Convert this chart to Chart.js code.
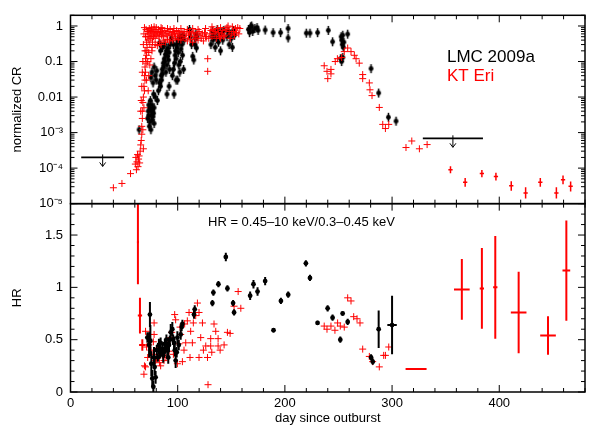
<!DOCTYPE html>
<html><head><meta charset="utf-8">
<script src="https://cdn.jsdelivr.net/npm/chart.js@4"></script>
<style>html,body{margin:0;padding:0;background:#fff}canvas{display:block}</style>
</head><body>
<canvas id="c" width="598" height="428"></canvas>
<script>
// ---------- DATA ----------
const xTicks = [0, 100, 200, 300, 400];
const crTicks = [1e-5, 1e-4, 1e-3, 0.01, 0.1, 1];
const crTickLabels = ['10\u207B\u2075', '10\u207B\u2074', '10\u207B\u00B3', '0.01', '0.1', '1'];
const hrTicks = [0, 0.5, 1, 1.5];
const hrTickLabels = ['0', '0.5', '1', '1.5'];

// KT Eri normalized count rate [day, CR]
const ktCr = [
 [40,2.8e-5],[48,3.7e-5],[56,7e-5],[60.5,1.3e-4],[61,2e-4],[61.5,9e-5],[62,1.5e-4],[62.5,2.4e-4],[63,1.1e-4],[63.5,1.8e-4],
 [64,2.2e-4],[64.5,1.4e-4],[65,3e-4],[65.5,4.5e-4],[66,6e-4],[66.5,9e-4],[66.5,1.5e-3],[67,2.5e-3],[67,4e-3],[67.5,7e-3],
 [67.5,1.2e-3],[68,0.01],[68,3.5e-4],[68.5,0.02],[68.5,5e-3],[69,0.04],[69,0.015],[69.5,0.07],[69.5,0.03],[70,0.12],
 [70,0.05],[70.5,0.2],[70.5,0.09],[71,0.35],[71,0.15],[71.5,0.5],[71.5,0.25],[72,0.7],[72,0.1],[72.5,0.4],
 [73,0.6],[73,0.18],[73.5,0.85],[74,0.3],[74,0.5],[74.5,0.75],[75,0.45],[75,0.65],[75.5,0.9],[76,0.55],
 [76.5,0.35],[77,0.7],[77.5,0.5],[78,0.8],[78.5,0.6],[79,0.45],[79.5,0.7],[80,0.9],[80.5,0.55],[81,0.65],
 [82,0.8],[82.5,0.5],[83,0.6],[84,0.7],[85,0.55],[85.5,0.85],[86,0.65],[87,0.5],[88,0.75],[89,0.6],
 [90,0.55],[91,0.7],[92,0.6],[93,0.8],[94,0.55],[95,0.65],[96,0.7],[97,0.6],[98,0.5],[99,0.75],
 [100,0.6],[101,0.7],[102,0.55],[104,0.65],[105,0.5],[106,0.7],[108,0.6],[110,0.55],[111,0.7],[113,0.6],
 [115,0.65],[116,0.5],[118,0.6],[120,0.7],[121,0.55],[123,0.6],[125,0.65],[127,0.5],[128,0.12],[128,0.053],
 [130,0.6],[131,0.75],[133,0.8],[134,0.6],[135,0.7],[137,0.85],[138,0.65],[139,0.5],[141,0.6],[142,0.75],
 [144,0.55],[145,0.8],[146,0.9],[147,1.0],[148,0.7],[150,0.6],[152,0.7],[154,0.85],[155,0.65],[156,0.9],[158,0.85],
 [76,0.25],[79,0.3],[81,0.28],[83,0.35],[84.5,0.3],[86.5,0.4],[88.5,0.35],[90.5,0.42],[92.5,0.38],[95.5,0.4],
 [97.5,0.45],[100.5,0.42],[103,0.4],[107,0.45],[109,0.38],[112,0.42],[114,0.35],[117,0.45],[119,0.4],[122,0.45],
 [124,0.38],[126,0.5],[129,0.45],[132,0.5],[136,0.45],[140,0.45],[143,0.5],[149,0.45],[153,0.55],[157,0.6],
 [78,0.95],[84.5,0.9],[90.5,0.85],[96.5,0.85],[103,0.85],[109,0.8],[114,0.85],[119,0.8],[126,0.85],[132,0.95],[140,0.9],[151,0.95],
 [65.5,0.004],[66,0.008],[66.5,0.02],[67,0.05],[67.5,0.1],[68,0.3],[68.5,0.6],[69,0.9],[69.5,0.2],[70,0.5],
 [70.5,0.8],[71,0.03],[72.5,0.015],[73,0.04],[74,0.08],[75,0.12],[76,0.2],
 [236.7,0.076],[239.3,0.053],[240,0.033],[243,0.06],[243,0.045],[247,0.1],[249,0.12],[253,0.13],[255.4,0.19],[258.6,0.24],
 [261.7,0.19],[264.8,0.15],[266.4,0.12],[269.4,0.09],[272.6,0.043],[272.6,0.033],[278.8,0.025],[279.4,0.016],[281.3,0.011],[288.1,0.0051],
 [291.3,0.0017],[293.8,0.0013],[296.9,0.0017],[313,3.8e-4],[318.4,5.8e-4],[325.5,3.5e-4],[332.7,4.6e-4]
];
// KT Eri late faint detections [day, CR, low, high, day error]
const ktLate = [
 [354.5,9e-5,7.2e-5,1.12e-4,2],[368.2,4e-5,3e-5,5.3e-5,2],[383.8,7e-5,5.5e-5,8.9e-5,2],[396.9,5.8e-5,4.5e-5,7.4e-5,2],
 [411.2,3.2e-5,2.3e-5,4.3e-5,2],[424.6,2e-5,1.4e-5,2.9e-5,2],[438.3,4e-5,3e-5,5.3e-5,2],[453.3,2e-5,1.4e-5,2.9e-5,2],
 [459.5,4.7e-5,3.5e-5,6.2e-5,2],[466.6,3.1e-5,2.2e-5,4.2e-5,2]
];
// LMC 2009a normalized count rate [day, CR]
const lmcCr = [
 [64,1.2e-3],[72,2.5e-3],[72.5,4e-3],[73,6e-3],[73,3e-3],[73.5,1.5e-3],[74,5e-3],[74,2e-3],[74.5,8e-3],[75,4e-3],
 [75,1.2e-3],[75.5,3e-3],[76,6e-3],[76,2.2e-3],[76.5,4.5e-3],[77,2.8e-3],[77.5,3.5e-3],[78,5e-3],[78,1.8e-3],
 [75,0.035],[76,0.05],[77,0.025],[78,0.07],[79,0.04],[80,0.03],[80.5,0.055],[77.5,0.012],[79,0.01],[81,0.008],
 [82,0.015],[83,0.025],[84,0.02],[84.5,0.04],[85,0.03],[85.5,0.06],[86,0.045],[86.5,0.09],[87,0.07],[87.5,0.12],
 [88,0.1],[88.5,0.16],[89,0.05],[89.5,0.2],[90,0.08],[90.5,0.14],[91,0.24],[91.5,0.11],[92,0.18],[92.5,0.06],[93,0.3],
 [83,0.33],[84,0.2],[86,0.25],[88,0.3],[90,0.012],[92,0.02],[94,0.45],[96,0.3],
 [96.6,0.012],
 [95,0.04],[96,0.06],[97,0.09],[97.5,0.15],[98,0.2],[98.5,0.12],[99,0.3],[99.5,0.25],[100,0.4],[100.5,0.18],
 [101,0.08],[101.5,0.35],[102,0.5],[102.5,0.1],[103,0.22],[103.5,0.45],[104,0.3],[104.5,0.15],[105,0.55],[105.5,0.06],[106,0.4],
 [98.5,0.03],[100,0.03],[102,0.05],
 [111,0.8],[112,0.5],[113,0.3],[114,0.14],
 [115,0.11],[116,0.3],[116.5,0.45],[117,0.6],[117.5,0.24],[118,0.5],
 [131,0.3],[132,0.5],[132.5,0.7],[133,0.4],[134,0.6],[135,0.25],[136,0.45],[137,0.8],[138,0.35],[139,0.55],
 [140,0.2],[141,0.65],[142,0.4],[143,0.75],
 [146,0.5],[147,0.7],[148,0.3],[149,0.6],[150,0.45],[151,0.25],[152,0.75],[153,0.55],
 [166,0.8],[167,0.65],[168,0.95],[169,1.0],[170,0.7],[172,0.85],[174,0.9],[175,0.75],[181.6,0.77],[189,0.65],
 [196,0.65],[203,0.85],[203,0.46],[220,0.63],[223.4,0.63],[230.5,0.65],[240.5,0.75],[244.5,0.36],
 [252.5,0.5],[253,0.4],[253.5,0.3],[254,0.55],[254.5,0.25],[255,0.35],[258.6,0.59],[252,0.12],[253,0.1],[254,0.13],
 [280.4,0.063],[287.5,0.013],[296.6,0.0027],[303.7,0.0021]
];
// LMC 2009a upper limits [day from, day to, CR limit]
const lmcUpper = [[10, 50, 2e-4], [328.7, 384.8, 6.9e-4]];

// KT Eri hardness ratio [day, HR]
const ktHr = [
 [68.5,0.17],[69,0.25],[70,0.24],[70,0.58],[71,0.43],[72,0.33],[73,0.45],[74,0.55],[75,0.4],[76,0.36],
 [77.3,0.48],[78,0.55],[78,0.66],[79.4,0.30],[80.4,0.32],[81,0.42],[82,0.36],[83,0.28],[84.1,0.25],[85.7,0.35],
 [87.2,0.30],[88,0.42],[89,0.33],[90.3,0.47],[91.9,0.39],[93.5,0.52],[94.4,0.57],[96,0.36],[97.2,0.74],[98.1,0.69],
 [99.7,0.27],[101.2,0.46],[102.2,0.62],[102.8,0.55],[104.4,0.29],[105.9,0.40],[106.5,0.65],[107.5,0.47],[109,0.68],[110.6,0.76],
 [111.5,0.33],[112.1,0.58],[113.7,0.47],[114.6,0.66],[116.8,0.73],[118.4,0.85],[119.9,0.76],[119.9,0.33],[121.5,0.52],[123.1,0.66],
 [124,0.40],[126.2,0.44],[127.8,0.33],[128.3,0.07],[130.8,0.51],[130.8,0.44],[131.8,0.38],[133.9,0.65],[135.5,0.58],[137.7,0.51],
 [137.7,0.44],[139.6,0.40],[143.3,0.45],[146.4,0.57],[148.9,0.56],[152.6,0.82],[156.4,0.96],[158.9,0.80],
 [236.7,0.63],[239.3,0.60],[243,0.63],[246.7,0.59],[249.2,0.66],[251.7,0.63],[255.4,0.62],[258.6,0.90],[261.7,0.87],[264.2,0.72],
 [267.3,0.70],[270.1,0.66],[272.6,0.41],[278.8,0.34],[281.9,0.29],[288.1,0.24],[292.2,0.35],[293.8,0.35],[296.9,0.43]
];
// KT Eri hardness ratio with large errors [day, HR, day error, HR error]
const ktHrErr = [
 [62.9,1.43,1,0.4],[64.8,0.73,2,0.17],[67,0.45,3,0.055],[322.4,0.22,9.8,0.01],[365.1,0.98,7.3,0.29],
 [383.8,0.99,2,0.385],[396.3,1.0,2,0.49],[418.1,0.76,7.3,0.39],[445.5,0.54,7.3,0.185],[462.6,1.16,3.6,0.48]
];
// LMC 2009a hardness ratio [day, HR, HR error, day error]
const lmcHr = [
 [71.7,0.52,0.05],[73.3,0.45,0.12],[74.1,0.74,0.12],[74.5,0.49,0.15],[75.4,0.27,0.12],[76.3,0.13,0.08],[77.3,0.05,0.06],
 [77.9,0.33,0.1],[78.5,0.24,0.08],[79.4,0.14,0.06],[80.5,0.4,0.05],[81.5,0.33,0.04],[82.5,0.45,0.06],[83.5,0.38,0.06],
 [84.1,0.47,0.05],[85.7,0.41,0.06],[86.5,0.35,0.07],[87.2,0.38,0.05],[88,0.46,0.05],[88.8,0.44,0.06],[89.5,0.50,0.05],
 [90.3,0.40,0.08],[91.2,0.33,0.06],[91.9,0.45,0.07],[92.6,0.5,0.04],[93.5,0.57,0.08],[95,0.60,0.07],[95.8,0.5,0.05],
 [96.6,0.47,0.06],[97.3,0.40,0.06],[98.1,0.30,0.07],[99.1,0.38,0.05],[99.7,0.52,0.06],[101,0.45,0.05],[102.8,0.55,0.05],
 [103.7,0.62,0.04],[104.4,0.65,0.04],[115.2,0.74,0.04],[115.9,0.79,0.04],[132.4,0.85,0.03],[133.3,0.95,0.03],[138,1.03,0.03],
 [144.9,1.29,0.04],[146.4,0.99,0.03],[151.7,0.85,0.03],[152.6,0.76,0.03],[167.6,0.92,0.04],[170.7,1.03,0.04],[174.5,0.96,0.04],
 [181.6,1.06,0.04],[189.4,0.59,0.02],[196.3,0.87,0.03],[203.1,0.93,0.03],[219.6,1.23,0.03],[223.4,1.09,0.03],[230.5,0.66,0.02],
 [239.9,0.80,0.03],[244.5,0.71,0.03],[251.7,0.50,0.03],[253.9,0.75,0.02],[258.6,0.67,0.03],[280.4,0.33,0.03],[282,0.29,0.03],
 [287.5,0.60,0.18],[300,0.64,0.28,4.4]
];

// ---------- STYLE ----------
const FONT = "'Liberation Sans', Arial, Helvetica, sans-serif";
const RED = 'rgb(255,0,0)';

// black dot with short vertical bar (marker style for count-rate panel)
const dotBar = document.createElement('canvas');
dotBar.width = 7; dotBar.height = 13;
(function(){ const c = dotBar.getContext('2d'); c.fillStyle = '#000';
  c.beginPath(); c.arc(3.5, 6.5, 2.4, 0, Math.PI*2); c.fill(); c.fillRect(2.75, 2, 1.5, 9); })();

const errorBars = {
  id: 'errorBars',
  afterDatasetDraw(chart, args) {
    const ds = chart.data.datasets[args.index];
    if (!ds.bars) return;
    const xs = chart.scales.x, ys = chart.scales[ds.yAxisID], ctx = chart.ctx;
    ctx.save();
    ctx.beginPath(); ctx.rect(xs.left, ys.top, xs.right - xs.left, ys.bottom - ys.top); ctx.clip();
    ctx.strokeStyle = ds.barColor; ctx.lineWidth = ds.barWidth;
    for (const d of ds.data) {
      const px = xs.getPixelForValue(d.x), py = ys.getPixelForValue(d.y);
      ctx.beginPath();
      if (d.ylo !== undefined) { ctx.moveTo(px, ys.getPixelForValue(d.ylo)); ctx.lineTo(px, ys.getPixelForValue(d.yhi)); }
      if (d.xerr) { ctx.moveTo(xs.getPixelForValue(d.x - d.xerr), py); ctx.lineTo(xs.getPixelForValue(d.x + d.xerr), py); }
      ctx.stroke();
    }
    ctx.restore();
  }
};

const frame = {
  id: 'frame',
  afterDraw(chart) {
    const ctx = chart.ctx, xs = chart.scales.x, yt = chart.scales.yTop, yb = chart.scales.yBot;
    const L = xs.left, R = xs.right;
    const line = (a,b,c,d) => { ctx.beginPath(); ctx.moveTo(a,b); ctx.lineTo(c,d); ctx.stroke(); };
    ctx.save();
    ctx.strokeStyle = '#000';
    // upper limits
    ctx.lineWidth = 1.8;
    for (const [d0, d1, v] of lmcUpper) {
      const py = yt.getPixelForValue(v);
      line(xs.getPixelForValue(d0), py, xs.getPixelForValue(d1), py);
    }
    ctx.lineWidth = 1;
    for (const [d0, d1, v] of lmcUpper) {
      const py = yt.getPixelForValue(v), px = xs.getPixelForValue((d0 + d1) / 2);
      line(px, py - 3, px, py + 9);
      ctx.beginPath(); ctx.moveTo(px - 3, py + 5); ctx.lineTo(px, py + 9); ctx.lineTo(px + 3, py + 5); ctx.stroke();
    }
    // frames
    ctx.lineWidth = 1.5;
    for (const s of [yt, yb]) ctx.strokeRect(L, s.top, R - L, s.bottom - s.top);
    ctx.lineWidth = 1;
    for (let v = 0; v <= xs.max; v += 20) {
      const px = xs.getPixelForValue(v), len = v % 100 === 0 ? 7 : 4;
      for (const s of [yt, yb]) { line(px, s.top, px, s.top + len); line(px, s.bottom, px, s.bottom - len); }
    }
    for (let e = -5; e <= 0; e++) for (let k = 1; k <= 9; k++) {
      const v = k * Math.pow(10, e); if (v > yt.max) break;
      const py = yt.getPixelForValue(v), len = k === 1 ? 7 : 4;
      line(L, py, L + len, py); line(R, py, R - len, py);
    }
    for (let i = 0; i <= 18; i++) {
      const py = yb.getPixelForValue(i / 10), len = i % 5 === 0 ? 7 : 4;
      line(L, py, L + len, py); line(R, py, R - len, py);
    }
    // texts
    ctx.textBaseline = 'middle'; ctx.textAlign = 'left';
    ctx.font = '17px ' + FONT;
    ctx.fillStyle = '#000'; ctx.fillText('LMC 2009a', 447, 57);
    ctx.fillStyle = RED; ctx.fillText('KT Eri', 447, 76);
    ctx.font = '13px ' + FONT; ctx.fillStyle = '#000';
    ctx.fillText('HR = 0.45\u201310 keV/0.3\u20130.45 keV', 208, 222);
    ctx.restore();
  }
};

const tickFont = { family: FONT, size: 13 };
const titleFont = { family: FONT, size: 13, lineHeight: 1.2 };

const chart = new Chart(document.getElementById('c'), {
  type: 'scatter',
  data: { datasets: [
    { label: 'LMC 2009a CR', order: 1, yAxisID: 'yTop', data: lmcCr.map(([x, y]) => ({x, y})),
      pointStyle: dotBar, pointRadius: 3, pointHoverRadius: 3 },
    { label: 'LMC 2009a HR', order: 0, yAxisID: 'yBot',
      data: lmcHr.map(([x, y, e, xe]) => ({x, y, ylo: y - e, yhi: y + e, xerr: xe || 0})),
      pointStyle: 'circle', pointRadius: 2.4, pointHoverRadius: 2.4, backgroundColor: '#000', borderWidth: 0,
      bars: true, barColor: '#000', barWidth: 2 },
    { label: 'KT Eri CR', order: 0, yAxisID: 'yTop', data: ktCr.map(([x, y]) => ({x, y})),
      pointStyle: 'cross', pointRadius: 3.5, pointHoverRadius: 3.5, borderColor: RED, borderWidth: 1 },
    { label: 'KT Eri CR late', order: 0, yAxisID: 'yTop',
      data: ktLate.map(([x, y, lo, hi, xe]) => ({x, y, ylo: lo, yhi: hi, xerr: xe})),
      pointRadius: 0, bars: true, barColor: RED, barWidth: 1.5 },
    { label: 'KT Eri HR', order: 1, yAxisID: 'yBot', data: ktHr.map(([x, y]) => ({x, y})),
      pointStyle: 'cross', pointRadius: 3.5, pointHoverRadius: 3.5, borderColor: RED, borderWidth: 1 },
    { label: 'KT Eri HR err', order: 1, yAxisID: 'yBot',
      data: ktHrErr.map(([x, y, xe, e]) => ({x, y, ylo: y - e, yhi: y + e, xerr: xe})),
      pointRadius: 0, bars: true, barColor: RED, barWidth: 2 }
  ]},
  options: {
    responsive: false, animation: false, devicePixelRatio: 1, events: [],
    layout: { padding: { left: 0, right: 13, top: 9, bottom: 0 } },
    plugins: { legend: { display: false }, tooltip: { enabled: false } },
    scales: {
      x: { type: 'linear', position: 'bottom', min: 0, max: 480,
        grid: { display: false, drawTicks: false }, border: { display: false },
        afterBuildTicks: s => { s.ticks = xTicks.map(v => ({value: v})); },
        afterFit: s => { s.height = 36; },
        ticks: { font: tickFont, color: '#000', padding: 4, autoSkip: false, maxRotation: 0 },
        title: { display: true, text: 'day since outburst', font: titleFont, color: '#000', padding: { top: 0, bottom: 2 } } },
      yTop: { type: 'logarithmic', position: 'left', stack: 'panels', stackWeight: 1, weight: 2, min: 1e-5, max: 2,
        grid: { display: false, drawTicks: false }, border: { display: false },
        afterBuildTicks: s => { s.ticks = crTicks.map(v => ({value: v})); },
        afterFit: s => { s.width = 70.5; },
        ticks: { font: tickFont, color: '#000', padding: 7.5, autoSkip: false,
          callback: v => { const i = crTicks.findIndex(t => Math.abs(t - v) / t < 1e-6); return i < 0 ? '' : crTickLabels[i]; } },
        title: { display: true, text: 'normalized CR', font: titleFont, color: '#000', padding: { top: 10, bottom: 0 } } },
      yBot: { type: 'linear', position: 'left', stack: 'panels', stackWeight: 1, weight: 1, min: 0, max: 1.8,
        grid: { display: false, drawTicks: false }, border: { display: false },
        afterBuildTicks: s => { s.ticks = hrTicks.map(v => ({value: v})); },
        afterFit: s => { s.width = 70.5; },
        ticks: { font: tickFont, color: '#000', padding: 7.5, autoSkip: false,
          callback: v => { const i = hrTicks.indexOf(v); return i < 0 ? '' : hrTickLabels[i]; } },
        title: { display: true, text: 'HR', font: titleFont, color: '#000', padding: { top: 10, bottom: 0 } } }
    }
  },
  plugins: [errorBars, frame]
});
</script>
</body></html>
